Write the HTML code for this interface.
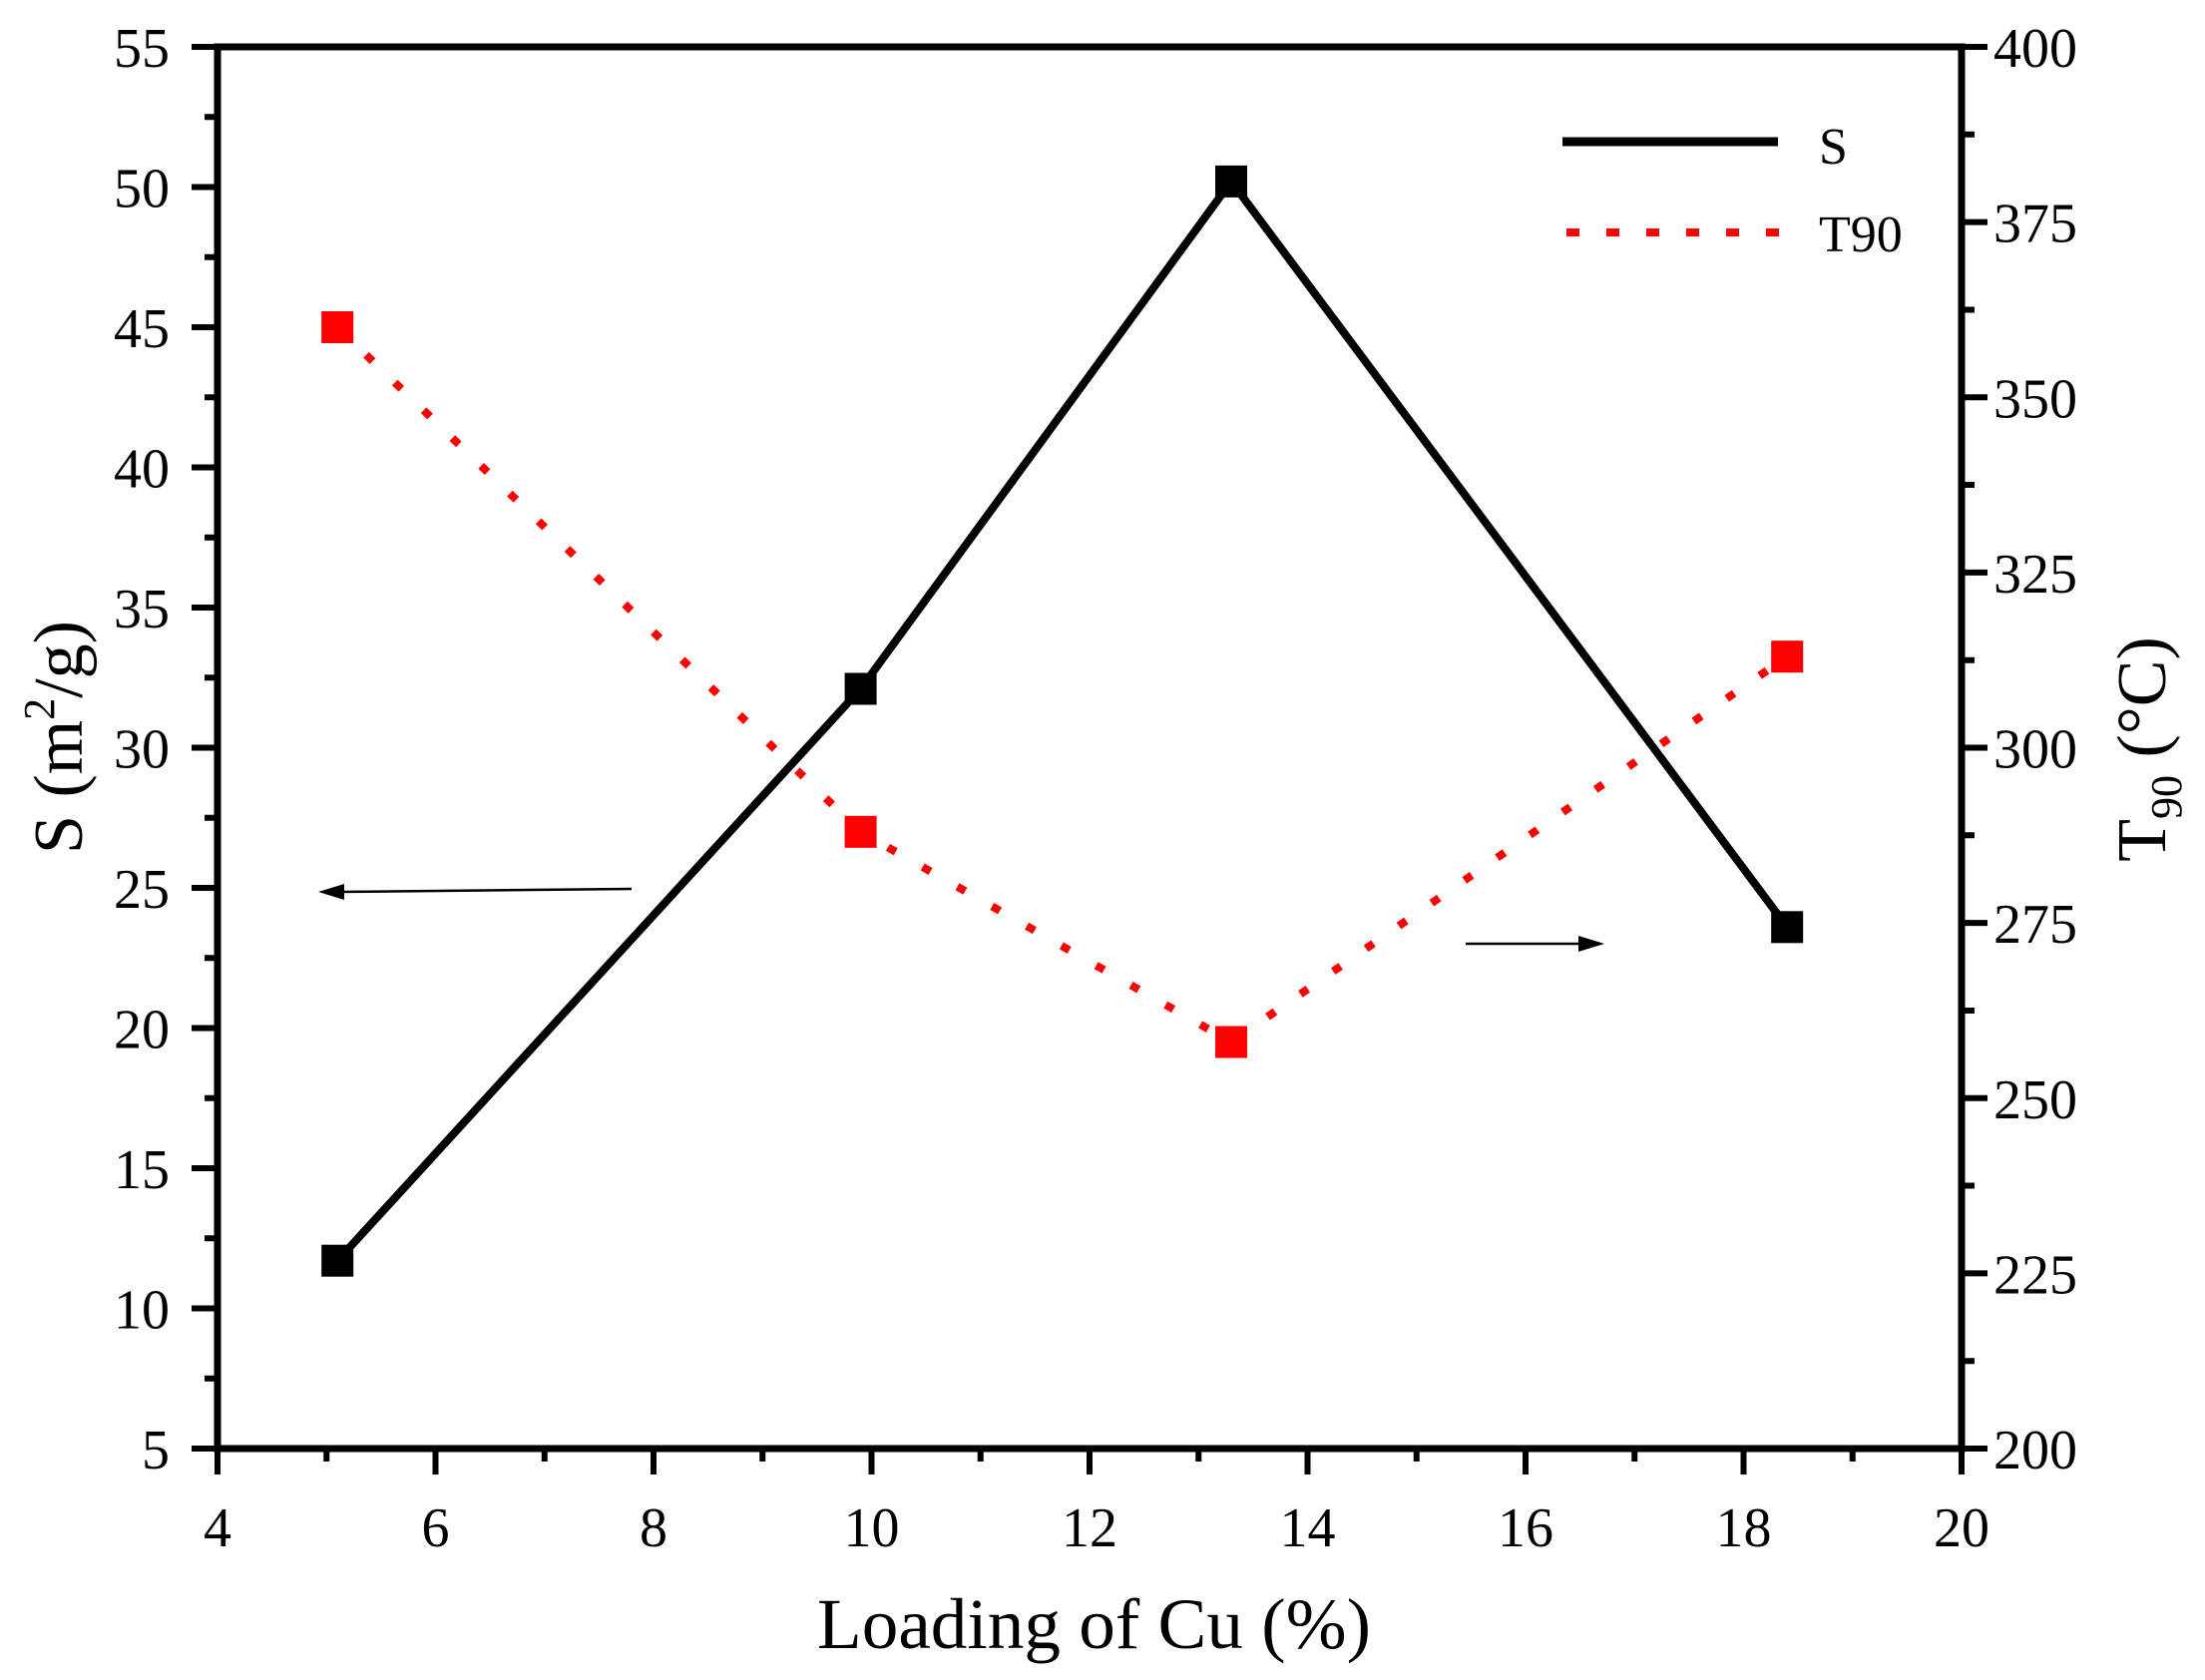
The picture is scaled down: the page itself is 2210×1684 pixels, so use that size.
<!DOCTYPE html>
<html><head><meta charset="utf-8"><style>html,body{margin:0;padding:0;background:#fff}svg{display:block}</style></head>
<body>
<svg width="2210" height="1684" viewBox="0 0 2210 1684" xmlns="http://www.w3.org/2000/svg" font-family="Liberation Serif, serif">
<rect width="2210" height="1684" fill="#fff"/>
<rect x="218" y="47" width="1748" height="1405" stroke="#000" stroke-width="7" fill="none"/>
<path stroke="#000" stroke-width="6" fill="none" d="
M218,1452V1478 M327.25,1452V1465 M436.5,1452V1478 M545.75,1452V1465 M655,1452V1478 M764.25,1452V1465 M873.5,1452V1478 M982.75,1452V1465 M1092,1452V1478 M1201.25,1452V1465 M1310.5,1452V1478 M1419.75,1452V1465 M1529,1452V1478 M1638.25,1452V1465 M1747.5,1452V1478 M1856.75,1452V1465 M1966,1452V1478
M218,1452H192 M218,1381.75H205 M218,1311.5H192 M218,1241.25H205 M218,1171H192 M218,1100.75H205 M218,1030.5H192 M218,960.25H205 M218,890H192 M218,819.75H205 M218,749.5H192 M218,679.25H205 M218,609H192 M218,538.75H205 M218,468.5H192 M218,398.25H205 M218,328H192 M218,257.75H205 M218,187.5H192 M218,117.25H205 M218,47H192
M1966,1452H1992 M1966,1364.19H1979 M1966,1276.38H1992 M1966,1188.56H1979 M1966,1100.75H1992 M1966,1012.94H1979 M1966,925.13H1992 M1966,837.31H1979 M1966,749.5H1992 M1966,661.69H1979 M1966,573.88H1992 M1966,486.06H1979 M1966,398.25H1992 M1966,310.44H1979 M1966,222.63H1992 M1966,134.81H1979 M1966,47H1992"/>
<g font-size="56" fill="#000" text-anchor="middle">
<text x="218" y="1550">4</text><text x="436.5" y="1550">6</text><text x="655" y="1550">8</text><text x="873.5" y="1550">10</text><text x="1092" y="1550">12</text><text x="1310.5" y="1550">14</text><text x="1529" y="1550">16</text><text x="1747.5" y="1550">18</text><text x="1966" y="1550">20</text>
</g>
<g font-size="56" fill="#000" text-anchor="end">
<text x="170" y="1472">5</text><text x="170" y="1331.5">10</text><text x="170" y="1191">15</text><text x="170" y="1050.5">20</text><text x="170" y="910">25</text><text x="170" y="769.5">30</text><text x="170" y="629">35</text><text x="170" y="488.5">40</text><text x="170" y="348">45</text><text x="170" y="207.5">50</text><text x="170" y="67">55</text>
</g>
<g font-size="56" fill="#000">
<text x="1998" y="1472">200</text><text x="1998" y="1296.4">225</text><text x="1998" y="1120.8">250</text><text x="1998" y="945.1">275</text><text x="1998" y="769.5">300</text><text x="1998" y="593.9">325</text><text x="1998" y="418.3">350</text><text x="1998" y="242.6">375</text><text x="1998" y="67">400</text>
</g>
<polyline points="338.2,1263.7 862.6,690.5 1234,181.9 1791.2,929.3" fill="none" stroke="#000" stroke-width="8"/>
<polyline points="338.2,328 862.6,833.8 1234,1044.5 1791.2,658.2" fill="none" stroke="#f00" stroke-width="8" stroke-dasharray="9 31"/>
<g fill="#000">
<rect x="322.2" y="1247.7" width="32" height="32"/><rect x="846.6" y="674.5" width="32" height="32"/><rect x="1218" y="165.9" width="32" height="32"/><rect x="1775.2" y="913.3" width="32" height="32"/>
</g>
<g fill="#f00">
<rect x="322.2" y="312" width="32" height="32"/><rect x="846.6" y="817.8" width="32" height="32"/><rect x="1218" y="1028.5" width="32" height="32"/><rect x="1775.2" y="642.2" width="32" height="32"/>
</g>
<line x1="1566" y1="142" x2="1782" y2="142" stroke="#000" stroke-width="9"/>
<line x1="1570" y1="233" x2="1790" y2="233" stroke="#f00" stroke-width="8" stroke-dasharray="13 27"/>
<text x="1823" y="164" font-size="52">S</text>
<text x="1823" y="252" font-size="52">T90</text>
<line x1="633" y1="891" x2="340" y2="894" stroke="#000" stroke-width="2.5"/>
<polygon points="319,894 345,886 345,902" fill="#000"/>
<line x1="1469" y1="946" x2="1585" y2="946" stroke="#000" stroke-width="2.5"/>
<polygon points="1608,946 1582,938 1582,954" fill="#000"/>
<text x="819" y="1652" font-size="72" textLength="555" lengthAdjust="spacingAndGlyphs">Loading of Cu (%)</text>
<text transform="translate(82,739) rotate(-90)" font-size="70" text-anchor="middle">S (m<tspan font-size="44" dy="-28">2</tspan><tspan dy="28">/g)</tspan></text>
<text transform="translate(2170,751) rotate(-90)" font-size="70" text-anchor="middle">T<tspan font-size="44" dy="16">90</tspan><tspan dy="-16"> (°C)</tspan></text>
</svg>
</body></html>
